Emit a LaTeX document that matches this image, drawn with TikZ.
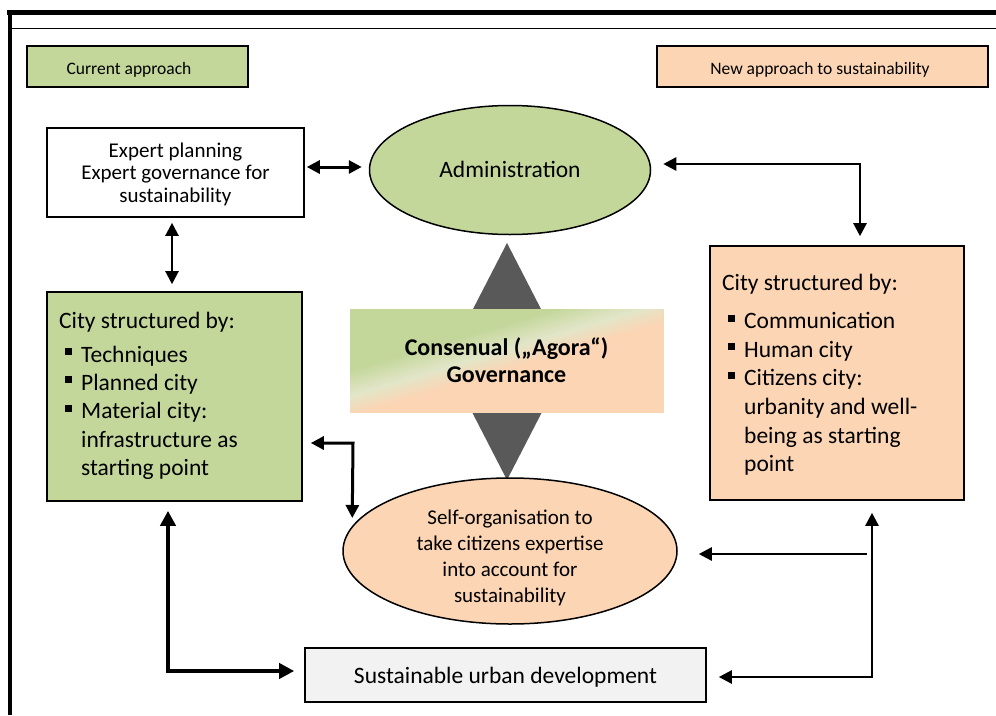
\documentclass[tikz,border=0pt]{standalone}
\usepackage{fontspec}
\setmainfont{Carlito}
\usetikzlibrary{arrows.meta,calc,shapes.geometric}
\definecolor{cgreen}{HTML}{C4D79B}
\definecolor{cpeach}{HTML}{FCD5B4}
\definecolor{clight}{HTML}{E2E6C8}
\definecolor{cgray}{HTML}{F2F2F2}
\definecolor{cdia}{HTML}{595959}
\begin{document}
\begin{tikzpicture}[x=1pt,y=-1pt,
  box/.style={draw=black, line width=1.6pt, inner sep=0pt},
  txtl/.style={inner sep=0pt, anchor=base west},
  txtc/.style={inner sep=0pt, anchor=base},
  big/.style={font=\fontsize{23.5}{28}\selectfont},
  mid/.style={font=\fontsize{21}{25}\selectfont},
  small/.style={font=\fontsize{17.5}{21}\selectfont},
  >={Triangle[length=13pt,width=13pt]},
  arr/.style={line width=2.5pt}]
\useasboundingbox (0,0) rectangle (996,715);
\fill[white] (0,0) rectangle (996,715);
% frame
\draw[line width=4.5pt] (7,12.5) -- (996,12.5);
\draw[line width=4.5pt] (10,10.5) -- (10,715);
\draw[line width=1.2pt] (10,28.5) -- (996,28.5);

% legend boxes
\node[box, fill=cgreen, minimum width=221pt, minimum height=41pt] (cur) at (137.5,66.5) {};
\node[txtc, small] (curt) at (129,74) {Current approach};
\node[box, fill=cpeach, minimum width=331pt, minimum height=41pt] (newap) at (822.5,66.5) {};
\node[txtc, small] (newt) at (820,74) {New approach to sustainability};

% expert box
\node[box, fill=white, minimum width=257pt, minimum height=89pt] (expert) at (175.5,172.5) {};
\node[txtc, mid] (ex1) at (175.5,157) {Expert planning};
\node[txtc, mid] (ex2) at (175.5,179.5) {Expert governance for};
\node[txtc, mid] (ex3) at (175.5,202) {sustainability};

% administration
\node[ellipse, draw=black, line width=1.5pt, fill=cgreen, minimum width=281pt, minimum height=129pt, inner sep=0pt] (admin) at (510,170) {};
\node[txtc, big] (admint) at (510,177) {Administration};

% left green box
\node[box, fill=cgreen, minimum width=255pt, minimum height=209pt] (leftbox) at (174.5,396.5) {};
\node[txtl, big] (l0) at (59,328) {City structured by:};
\node[txtl, big] (l1) at (81,362) {Techniques};
\node[txtl, big] (l2) at (81,390) {Planned city};
\node[txtl, big] (l3) at (81,418.5) {Material city:};
\node[txtl, big] (l4) at (81,447) {infrastructure as};
\node[txtl, big] (l5) at (81,475.5) {starting point};
\foreach \yb in {362,390,418.5}{\fill (65,\yb-14) rectangle (72,\yb-7);}

% right peach box
\node[box, fill=cpeach, minimum width=254pt, minimum height=254pt] (rightbox) at (837,373) {};
\node[txtl, big] (r0) at (722,290) {City structured by:};
\node[txtl, big] (r1) at (744,328.5) {Communication};
\node[txtl, big] (r2) at (744,357) {Human city};
\node[txtl, big] (r3) at (744,385.5) {Citizens city:};
\node[txtl, big] (r4) at (744,414.5) {urbanity and well-};
\node[txtl, big] (r5) at (744,443) {being as starting};
\node[txtl, big] (r6) at (744,471.5) {point};
\foreach \yb in {328.5,357,385.5}{\fill (728,\yb-14) rectangle (735,\yb-7);}

% gray diamond
\fill[cdia] (507,243) -- (568,361.5) -- (507,480) -- (446,361.5) -- cycle;

% agora gradient rectangle
\coordinate (agB) at (350,395);
\coordinate (nvec) at (0.286,0.958);
\coordinate (tvec) at (0.958,-0.286);
\begin{scope}
\clip (350,309) rectangle (663,412);
\fill[cgreen] (350,309) rectangle (663,412);
\foreach \s in {-24,-22,...,0}{
  \pgfmathsetmacro\p{(\s+24)*100/24}
  \fill[clight!\p!cgreen] ($(agB)+{\s}*(nvec)-500*(tvec)$) -- ($(agB)+{\s}*(nvec)+500*(tvec)$) -- ($(agB)+{\s+600}*(nvec)+500*(tvec)$) -- ($(agB)+{\s+600}*(nvec)-500*(tvec)$) -- cycle;
}
\foreach \s in {2,4,...,20}{
  \pgfmathsetmacro\p{\s*100/20}
  \fill[cpeach!\p!clight] ($(agB)+{\s}*(nvec)-500*(tvec)$) -- ($(agB)+{\s}*(nvec)+500*(tvec)$) -- ($(agB)+{\s+600}*(nvec)+500*(tvec)$) -- ($(agB)+{\s+600}*(nvec)-500*(tvec)$) -- cycle;
}
\end{scope}
\node[inner sep=0pt, minimum width=313pt, minimum height=103pt] (agora) at (506.5,360.5) {};
\node[txtc, font=\bfseries\fontsize{24}{27}\selectfont] (ag1) at (506.5,355) {Consenual („Agora“)};
\node[txtc, font=\bfseries\fontsize{24}{27}\selectfont] (ag2) at (506.5,382) {Governance};

% self-organisation ellipse
\node[ellipse, draw=black, line width=1.5pt, fill=cpeach, minimum width=334pt, minimum height=146pt, inner sep=0pt] (selforg) at (510,551) {};
\node[txtc, mid] (s1) at (510,524) {Self-organisation to};
\node[txtc, mid] (s2) at (510,550) {take citizens expertise};
\node[txtc, mid] (s3) at (510,576) {into account for};
\node[txtc, mid] (s4) at (510,602) {sustainability};

% sustainable urban development
\node[box, fill=cgray, minimum width=401pt, minimum height=54pt] (sud) at (505.5,675) {};
\node[txtc, big] (sudt) at (505.5,683) {Sustainable urban development};

% connectors
\draw[arr, line width=3pt, <->] ([shift={(2,-5.5)}]expert.east) -- ([shift={(-7,-3)}]admin.west);
\draw[arr, line width=2.2pt, <->] ([shift={(-3.5,5)}]expert.south) -- ([shift={(-2.5,-7)}]leftbox.north);
\coordinate (c1) at (860,164);
\draw[arr, <->] ([shift={(12,-6)}]admin.east) -- (c1) -- ([shift={(23,-9)}]rightbox.north);
\coordinate (c2) at (353,443);
\draw[arr, line width=3pt, <->] ([shift={(8,46.5)}]leftbox.east) -- (c2) -- ([shift={(10,-33)}]selforg.west);
\coordinate (c3) at (168,671);
\draw[arr, line width=4.5pt, >={Triangle[length=15pt,width=15pt]}, <->] ([shift={(-6.5,9)}]leftbox.south) -- (c3) -- ([shift={(-10,-4)}]sud.west);
\coordinate (c4) at (872,677);
\draw[arr, <->] ([shift={(35,12)}]rightbox.south) -- (c4) -- ([shift={(12,2)}]sud.east);
\coordinate (c5) at (867,554);
\draw[arr, ->] (c5) -- ([shift={(21,3)}]selforg.east);
\end{tikzpicture}
\end{document}
